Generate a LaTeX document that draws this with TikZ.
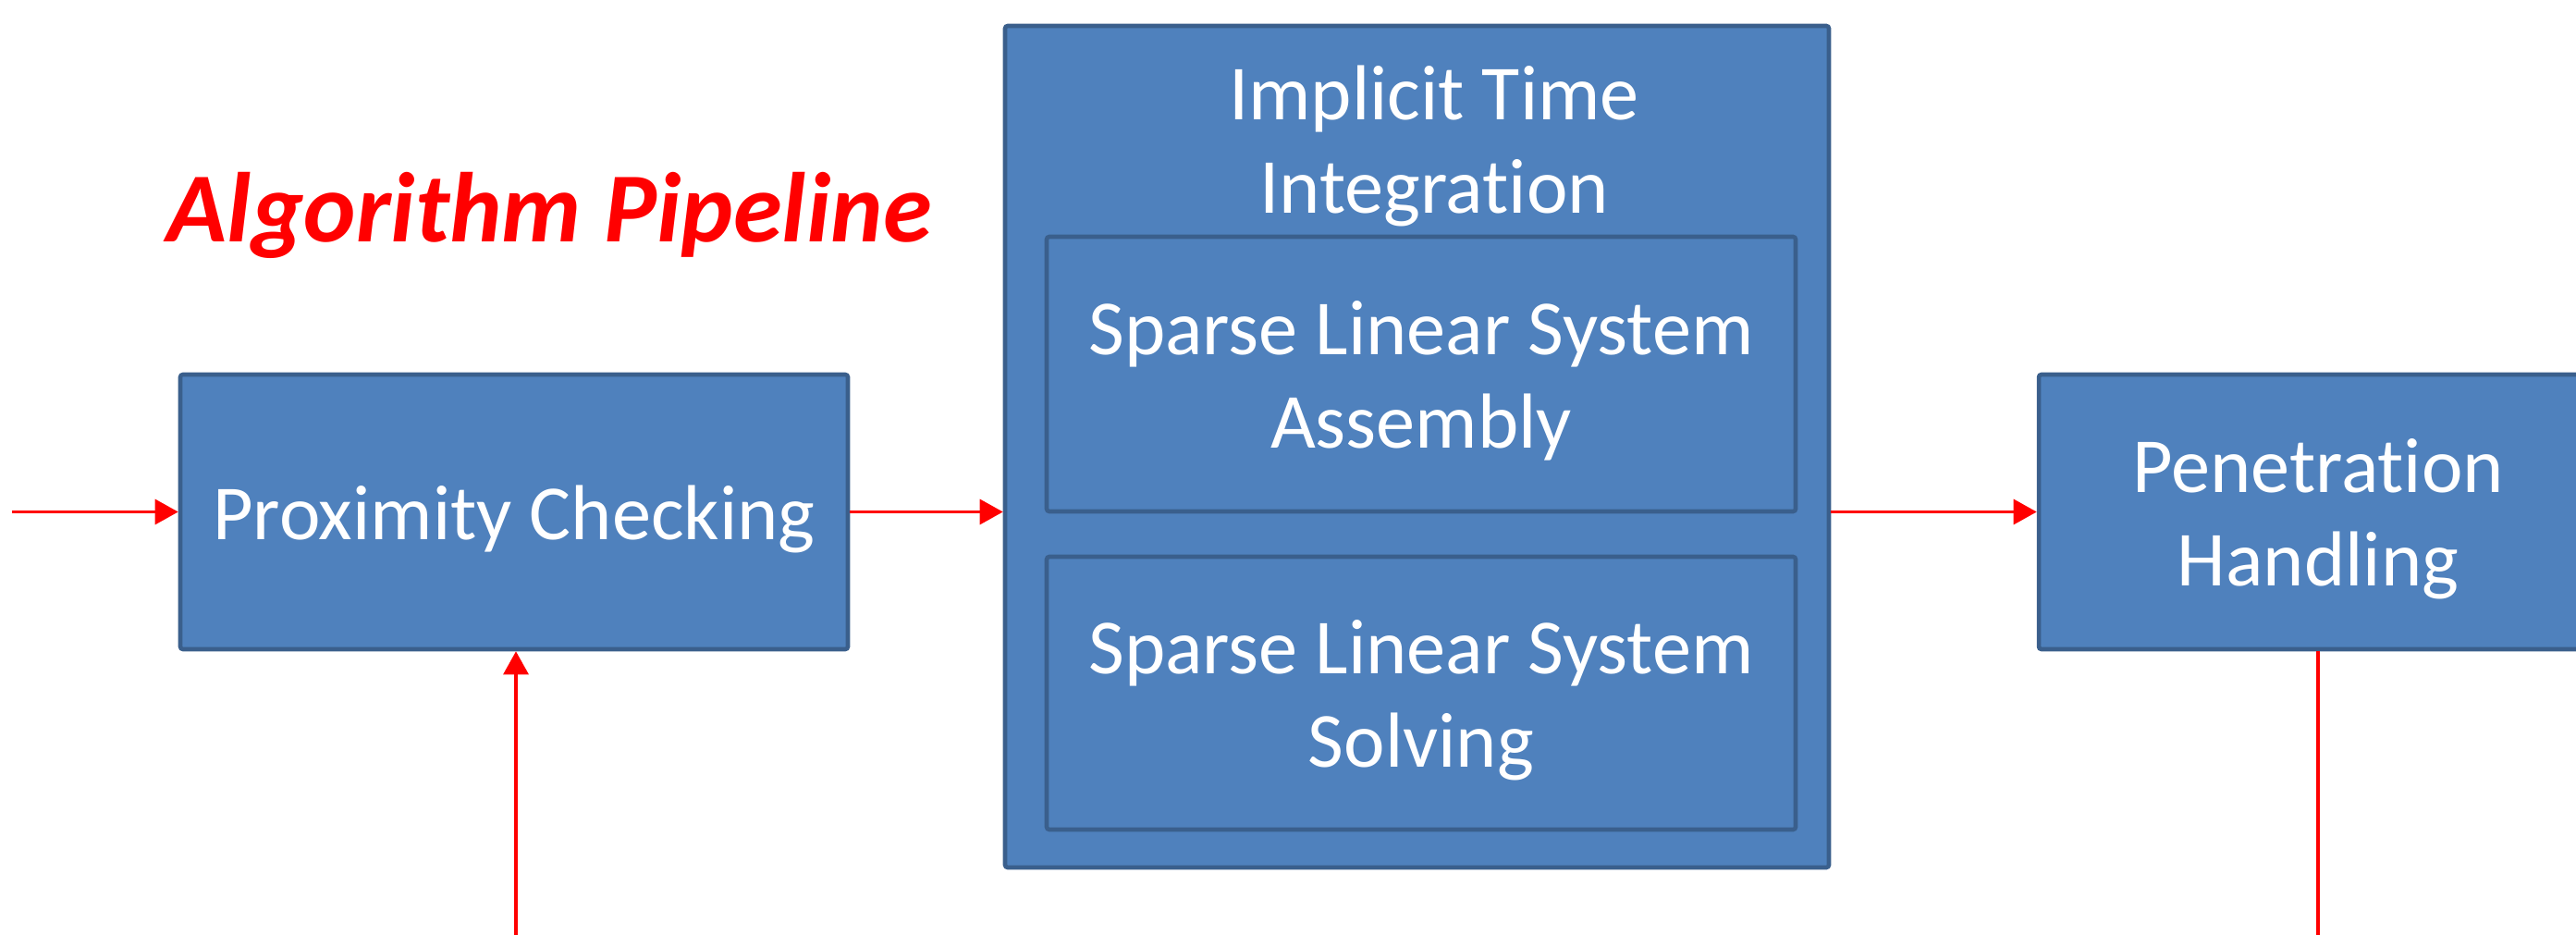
\documentclass[tikz,border=0pt]{standalone}
\usepackage{fontspec}
\setmainfont{Carlito}[RawFeature={-liga;-clig;-calt;-dlig}]
\usetikzlibrary{arrows.meta,calc}
\definecolor{boxfill}{HTML}{4F81BD}
\definecolor{boxdraw}{HTML}{3A5F8C}
\definecolor{flowred}{HTML}{FF0000}
\newcommand\topstr{\rule{0pt}{24pt}}
\newcommand\botstr{\rule[-7.2pt]{0pt}{0pt}}
\newcommand\nolig{\kern0pt{}}
\begin{document}
\begin{tikzpicture}[
  boxtext/.style={text=white, align=center, inner sep=0pt,
    font=\fontsize{24}{29}\selectfont},
  blockbox/.style={boxtext, draw=boxdraw, line width=1.3pt, fill=boxfill,
    rounded corners=0.8pt},
  flow/.style={draw=flowred, line width=0.9pt, -{Triangle[length=0.25cm,width=0.27cm]}},
  flowplain/.style={draw=flowred, line width=0.9pt}
]
\clip (0,0) rectangle (27.86,10.10);
\fill[white] (0,0) rectangle (27.86,10.10);

\node[text=flowred, font=\fontsize{30.5}{36}\selectfont\bfseries\itshape, anchor=base west, inner sep=0pt]
  (title) at (1.80,7.48) {Algorithm Pipeline};

\node[blockbox, minimum width=7.22cm, minimum height=2.97cm] (prox) at (5.56,4.565) {\topstr Proximity Checking\botstr};
\node[blockbox, minimum width=8.91cm, minimum height=9.10cm] (iti) at (15.325,5.27) {};
\node[boxtext] (itilabel) at (15.51,8.595) {\topstr Implicit Time\\Integrat\nolig ion\botstr};
\node[blockbox, minimum width=8.10cm, minimum height=2.97cm] (assembly) at (15.37,6.055) {\topstr Sparse Linear System\\Assembly\botstr};
\node[blockbox, minimum width=8.10cm, minimum height=2.95cm] (solving) at (15.37,2.605) {\topstr Sparse Linear System\\Solving\botstr};
\node[blockbox, minimum width=6.04cm, minimum height=2.97cm] (pen) at (25.07,4.565) {\topstr Penetrat\nolig ion\\Handling\botstr};

\coordinate (start) at (0.13,4.565);
\coordinate (fbin) at (5.58,-0.1);
\coordinate (fbout) at (25.07,-0.1);

\draw[flow] (start) -- (prox.west);
\draw[flow] (prox.east) -- (prox.east -| iti.west);
\draw[flow] (pen.west -| iti.east) -- (pen.west);
\draw[flow] (fbin) -- (fbin |- prox.south);
\draw[flowplain] (pen.south) -- (fbout);
\end{tikzpicture}
\end{document}
